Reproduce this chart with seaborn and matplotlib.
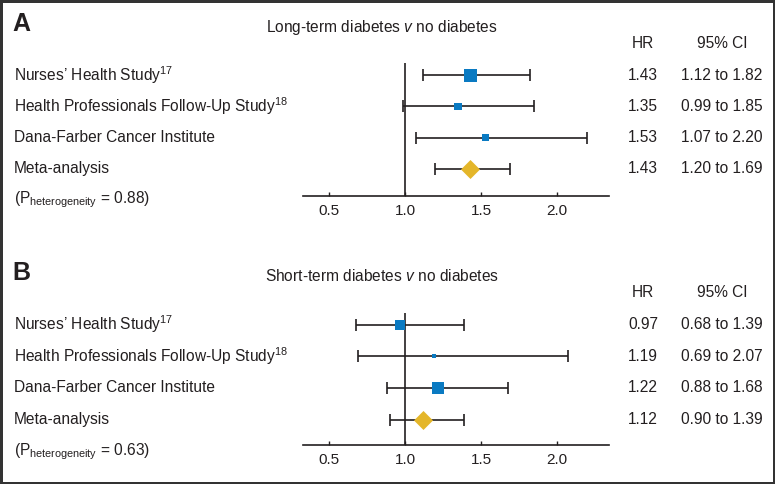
import numpy as np
import pandas as pd
import matplotlib
matplotlib.use("Agg")
import matplotlib.pyplot as plt
import matplotlib.transforms as mtransforms
import seaborn as sns

# --- data ---
studies = ["Nurses’ Health Study$^{17}$",
           "Health Professionals Follow-Up Study$^{18}$",
           "Dana-Farber Cancer Institute",
           "Meta-analysis"]

hr_a = [1.43, 1.35, 1.53, 1.43]
lo_a = [1.12, 0.99, 1.07, 1.20]
hi_a = [1.82, 1.85, 2.20, 1.69]
weight_a = [13, 7.5, 7, 19]      # box / diamond size (px), reflects study weight
p_het_a = "0.88"

hr_b = [0.97, 1.19, 1.22, 1.12]
lo_b = [0.68, 0.69, 0.88, 0.90]
hi_b = [1.39, 2.07, 1.68, 1.39]
weight_b = [10, 4, 12, 19]
p_het_b = "0.63"

titles = ["Long-term diabetes $\\it{v}$ no diabetes",
          "Short-term diabetes $\\it{v}$ no diabetes"]
panel_letters = ["A", "B"]
xticks = [0.5, 1.0, 1.5, 2.0]

BLUE = "#0a7ac2"
GOLD = "#e4b62a"
INK = "#231f20"

sns.set_style("white")
plt.rcParams["font.family"] = ["Liberation Sans", "DejaVu Sans"]
plt.rcParams["mathtext.fontset"] = "custom"
plt.rcParams["mathtext.rm"] = "Liberation Sans"
plt.rcParams["mathtext.it"] = "Liberation Sans:italic"
plt.rcParams["mathtext.bf"] = "Liberation Sans:bold"

W, H = 775, 484
fig = plt.figure(figsize=(W / 100, H / 100), dpi=100,
                 linewidth=2.5, edgecolor="#333333")


def px2pt(p):
    return p * 72 / 100


def panel(hr, lo, hi, weight, p_het, title, letter, row0, step, top, axis):
    ax = fig.add_axes([303 / W, 1 - axis / H, (609 - 303) / W, (axis - top) / H])
    df = pd.DataFrame({"study": studies, "hr": hr, "lo": lo, "hi": hi,
                       "row": np.arange(len(studies)), "w": weight})
    # confidence intervals
    ax.errorbar(df["hr"], df["row"],
                xerr=[df["hr"] - df["lo"], df["hi"] - df["hr"]],
                fmt="none", ecolor=INK, elinewidth=1.2, capsize=4,
                capthick=1.2, zorder=2)
    ax.axvline(1.0, color=INK, lw=1.2, zorder=1)

    studies_df = df.iloc[:3]
    meta_df = df.iloc[3:]
    sns.scatterplot(data=studies_df, x="hr", y="row", marker="s", color=BLUE,
                    s=[px2pt(w) ** 2 for w in studies_df["w"]], linewidth=0,
                    ax=ax, zorder=3, legend=False)
    sns.scatterplot(data=meta_df, x="hr", y="row", marker="D", color=GOLD,
                    s=[px2pt(w / 1.414) ** 2 for w in meta_df["w"]], linewidth=0,
                    ax=ax, zorder=3, legend=False)

    row3 = row0 + 3 * step
    ax.set_ylim(3 + (axis - row3) / step, -(row0 - top) / step)
    ax.set_xlim(1 + (303 - 405) / 152, 1 + (609 - 405) / 152)
    ax.set_xticks(xticks)
    ax.set_xticklabels([f"{t:.1f}" for t in xticks])
    ax.set_yticks([])
    ax.set_xlabel("")
    ax.set_ylabel("")
    sns.despine(ax=ax, left=True, top=True, right=True)
    ax.spines["bottom"].set_color(INK)
    ax.spines["bottom"].set_linewidth(1.2)
    ax.tick_params(axis="x", direction="in", length=3, width=1, colors=INK,
                   labelsize=11, pad=6, bottom=True)
    ax.set_facecolor("none")

    tr = mtransforms.blended_transform_factory(fig.transFigure, ax.transData)
    fs = 11.2
    for _, r in df.iterrows():
        ax.text(14 / W, r["row"], r["study"], transform=tr, ha="left",
                va="center", fontsize=fs, color=INK)
        ax.text(643 / W, r["row"], f"{r['hr']:.2f}", transform=tr,
                ha="center", va="center", fontsize=fs, color=INK)
        ax.text(722 / W, r["row"], f"{r['lo']:.2f} to {r['hi']:.2f}",
                transform=tr, ha="center", va="center", fontsize=fs, color=INK)
    ax.text(643 / W, -1.0, "HR", transform=tr, ha="center", va="center",
            fontsize=fs, color=INK)
    ax.text(722 / W, -1.0, "95% CI", transform=tr, ha="center", va="center",
            fontsize=fs, color=INK)
    ax.text(382 / W, -1.52, title, transform=tr, ha="center", va="center",
            fontsize=fs, color=INK)
    ax.text(12 / W, -1.62, letter, transform=tr, ha="left", va="center",
            fontsize=18, fontweight="bold", color=INK)
    ax.text(14 / W, 4.0, "(P$_{\\rm heterogeneity}$ = " + p_het + ")",
            transform=tr, ha="left", va="center", fontsize=fs, color=INK)
    return ax


panel(hr_a, lo_a, hi_a, weight_a, p_het_a, titles[0], panel_letters[0],
      row0=75, step=31.3, top=63, axis=196)
panel(hr_b, lo_b, hi_b, weight_b, p_het_b, titles[1], panel_letters[1],
      row0=324.5, step=31.7, top=313, axis=445)

fig.savefig("out.png", dpi=100, facecolor="white")
